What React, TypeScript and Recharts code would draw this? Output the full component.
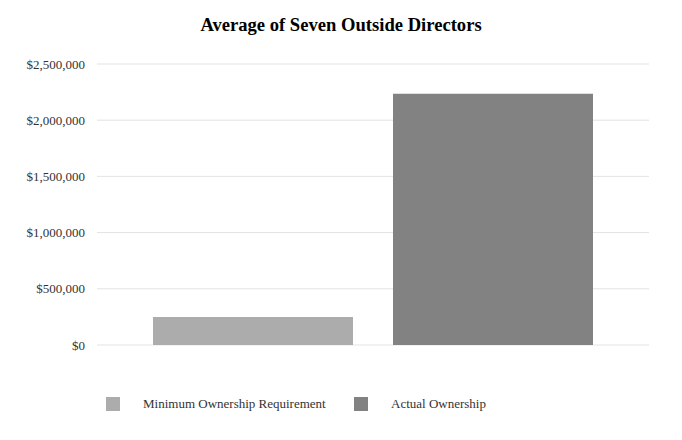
import { BarChart, Bar, XAxis, YAxis, CartesianGrid } from 'recharts';

const categories = ['Average of Seven Outside Directors'];
const minimumOwnership = [250000];
const actualOwnership = [2235000];
const yTicks = [0, 500000, 1000000, 1500000, 2000000, 2500000];

const seriesInfo = [
  { key: 'Minimum Ownership Requirement', color: '#acacac' },
  { key: 'Actual Ownership', color: '#828282' },
];

const data = categories.map((name, i) => ({
  name,
  'Minimum Ownership Requirement': minimumOwnership[i],
  'Actual Ownership': actualOwnership[i],
}));

const FONT = '"Liberation Serif", "Times New Roman", serif';

const fmt = (v: number) => '$' + v.toLocaleString('en-US');

export default function App() {
  return (
    <div style={{ position: 'absolute', left: 0, top: 0, width: 682, height: 440, background: '#fff' }}>
      <div
        style={{
          position: 'absolute',
          top: 14,
          width: 682,
          textAlign: 'center',
          fontFamily: FONT,
          fontWeight: 'bold',
          fontSize: 18.6,
          color: '#000',
        }}
      >
        Average of Seven Outside Directors
      </div>
      <BarChart
        width={682}
        height={440}
        data={data}
        margin={{ top: 64, right: 33, bottom: 95, left: 0 }}
        barCategoryGap={56}
        barGap={40}
      >
        <CartesianGrid vertical={false} stroke="#e3e3e3" />
        <XAxis dataKey="name" tick={false} tickLine={false} height={0} axisLine={{ stroke: '#cccccc' }} />
        <YAxis
          width={97}
          domain={[0, 2500000]}
          ticks={yTicks}
          tickFormatter={fmt}
          axisLine={false}
          tickLine={false}
          tickMargin={6}
          tick={{ fontFamily: FONT, fontSize: 13, fill: '#333' }}
        />
        {seriesInfo.map((s) => (
          <Bar key={s.key} dataKey={s.key} fill={s.color} isAnimationActive={false} />
        ))}
      </BarChart>
      {/* legend */}
      <div style={{ position: 'absolute', left: 0, top: 396, width: 682, fontFamily: FONT, fontSize: 13, color: '#333' }}>
        {seriesInfo.map((s, i) => (
          <div
            key={s.key}
            style={{ position: 'absolute', left: i === 0 ? 106 : 354, top: 0, display: 'flex', alignItems: 'center' }}
          >
            <span style={{ display: 'inline-block', width: 14, height: 14, background: s.color }} />
            <span style={{ marginLeft: 23 }}>{s.key}</span>
          </div>
        ))}
      </div>
    </div>
  );
}
